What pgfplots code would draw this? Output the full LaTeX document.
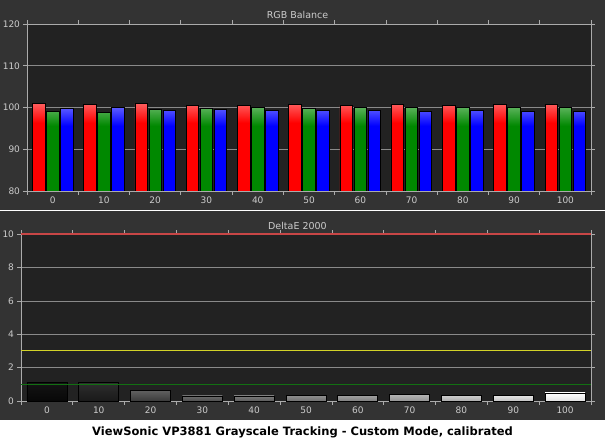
\documentclass[border=0pt]{standalone}
\usepackage{fontspec}
\setmainfont{DejaVu Sans}
\usepackage{pgfplots}
\pgfplotsset{compat=1.18}

\definecolor{bgout}{HTML}{333333}
\definecolor{plotbg}{HTML}{222222}
\definecolor{gridc}{HTML}{8A8A8A}
\definecolor{axisc}{HTML}{ABABAB}
\definecolor{tickc}{HTML}{CCCCCC}
\definecolor{redtop}{HTML}{FF5C5C}
\definecolor{redbot}{HTML}{FF0000}
\definecolor{greentop}{HTML}{5AB25A}
\definecolor{greenbot}{HTML}{008800}
\definecolor{bluetop}{HTML}{5C5CFF}
\definecolor{bluebot}{HTML}{0000FF}
\definecolor{limred}{HTML}{C84646}
\definecolor{limyellow}{HTML}{D2D228}
\definecolor{limgreen}{HTML}{127012}

% the bars run from 0, so the gradient sits in the visible top part
\pgfdeclareverticalshading{redbar}{100bp}{color(0bp)=(redbot); color(64bp)=(redbot); color(75bp)=(redtop); color(100bp)=(redtop)}
\pgfdeclareverticalshading{greenbar}{100bp}{color(0bp)=(greenbot); color(64bp)=(greenbot); color(75bp)=(greentop); color(100bp)=(greentop)}
\pgfdeclareverticalshading{bluebar}{100bp}{color(0bp)=(bluebot); color(64bp)=(bluebot); color(75bp)=(bluetop); color(100bp)=(bluetop)}

\pgfplotsset{
  chartbase/.style={
    scale only axis,
    anchor=south west,
    xmin=-0.5, xmax=10.5,
    axis background/.style={fill=plotbg},
    axis line style={axisc, line width=0.8pt},
    ymajorgrids,
    grid style={gridc, line width=0.7pt},
    tick align=outside,
    tick style={axisc, line width=0.7pt},
    major tick length=4pt,
    xtick={-0.5,0.5,...,10.5},
    xticklabels={},
    extra x ticks={0,1,...,10},
    extra x tick labels={0,10,20,30,40,50,60,70,80,90,100},
    extra x tick style={major tick length=0pt, grid=none},
    ticklabel style={font=\fontsize{9}{10}\selectfont, text=tickc},
    xticklabel style={yshift=-2pt},
    yticklabel style={xshift=0.5pt},
    /pgf/number format/assume math mode=true,
    title style={anchor=base, font=\fontsize{9.5}{11}\selectfont, text=tickc},
  },
}

\begin{document}
\begin{tikzpicture}[x=1pt,y=1pt]
\fill[bgout] (0,0) rectangle (605,441);
\fill[white] (0,0) rectangle (605,21);
\draw[white, line width=1.5pt] (0,230.3) -- (605,230.3);
\node[anchor=base, font=\bfseries\fontsize{11.5}{13}\selectfont, text=black] at (302.5,5.3)
  {ViewSonic VP3881 Grayscale Tracking - Custom Mode, calibrated};

% RGB Balance
\begin{axis}[chartbase,
  at={(27pt,250pt)},
  width=564pt, height=167pt,
  ymin=80, ymax=120,
  ytick={80,90,...,120},
  title={RGB Balance},
  title style={at={(0.4796,1)}, yshift=-0.5pt},
]
\addplot[ybar, bar width=12.6pt, bar shift=-14pt, draw=black, line width=0.7pt,
  shading=redbar] coordinates {
  (0,100.92) (1,100.68) (2,100.92) (3,100.44) (4,100.44) (5,100.68)
  (6,100.44) (7,100.68) (8,100.44) (9,100.68) (10,100.68)
};
\addplot[ybar, bar width=12.6pt, bar shift=0pt, draw=black, line width=0.7pt,
  shading=greenbar] coordinates {
  (0,99.16) (1,98.76) (2,99.56) (3,99.80) (4,100.04) (5,99.80)
  (6,100.04) (7,100.04) (8,100.04) (9,100.04) (10,100.04)
};
\addplot[ybar, bar width=12.6pt, bar shift=14pt, draw=black, line width=0.7pt,
  shading=bluebar] coordinates {
  (0,99.80) (1,100.04) (2,99.32) (3,99.56) (4,99.32) (5,99.32)
  (6,99.32) (7,99.08) (8,99.32) (9,99.08) (10,99.08)
};
\end{axis}

% DeltaE 2000
\begin{axis}[chartbase,
  at={(21pt,40pt)},
  width=570pt, height=166.7pt,
  ymin=0, ymax=10,
  ytick={0,2,...,10},
  clip=false,
  title={DeltaE 2000},
  title style={at={(0.485,1)}, yshift=-1pt},
]
\addplot[ybar, bar width=40pt, bar shift=0pt, draw=black, line width=0.7pt, top color=white!8!black, bottom color=white!3!black] coordinates {(0,1.12)};
\addplot[ybar, bar width=40pt, bar shift=0pt, draw=black, line width=0.7pt, top color=white!18!black, bottom color=white!10!black] coordinates {(1,1.12)};
\addplot[ybar, bar width=40pt, bar shift=0pt, draw=black, line width=0.7pt, top color=white!38!black, bottom color=white!23!black] coordinates {(2,0.64)};
\addplot[ybar, bar width=40pt, bar shift=0pt, draw=black, line width=0.7pt, top color=white!42!black, bottom color=white!31!black] coordinates {(3,0.30)};
\addplot[ybar, bar width=40pt, bar shift=0pt, draw=black, line width=0.7pt, top color=white!48!black, bottom color=white!36!black] coordinates {(4,0.30)};
\addplot[ybar, bar width=40pt, bar shift=0pt, draw=black, line width=0.7pt, top color=white!56!black, bottom color=white!44!black] coordinates {(5,0.34)};
\addplot[ybar, bar width=40pt, bar shift=0pt, draw=black, line width=0.7pt, top color=white!63!black, bottom color=white!50!black] coordinates {(6,0.34)};
\addplot[ybar, bar width=40pt, bar shift=0pt, draw=black, line width=0.7pt, top color=white!71!black, bottom color=white!58!black] coordinates {(7,0.40)};
\addplot[ybar, bar width=40pt, bar shift=0pt, draw=black, line width=0.7pt, top color=white!81!black, bottom color=white!67!black] coordinates {(8,0.34)};
\addplot[ybar, bar width=40pt, bar shift=0pt, draw=black, line width=0.7pt, top color=white!90!black, bottom color=white!76!black] coordinates {(9,0.34)};
\addplot[ybar, bar width=40pt, bar shift=0pt, draw=black, line width=0.7pt, top color=white, bottom color=white!88!black] coordinates {(10,0.48)};
% reference limits
\addplot[limgreen, line width=1.3pt] coordinates {(-0.5,1) (10.5,1)};
\addplot[limyellow, line width=1pt] coordinates {(-0.5,3) (10.5,3)};
\addplot[limred, line width=2.4pt] coordinates {(-0.5,10) (10.5,10)};
\end{axis}
\pgfresetboundingbox
\useasboundingbox (0,0) rectangle (605,441);
\end{tikzpicture}
\end{document}
